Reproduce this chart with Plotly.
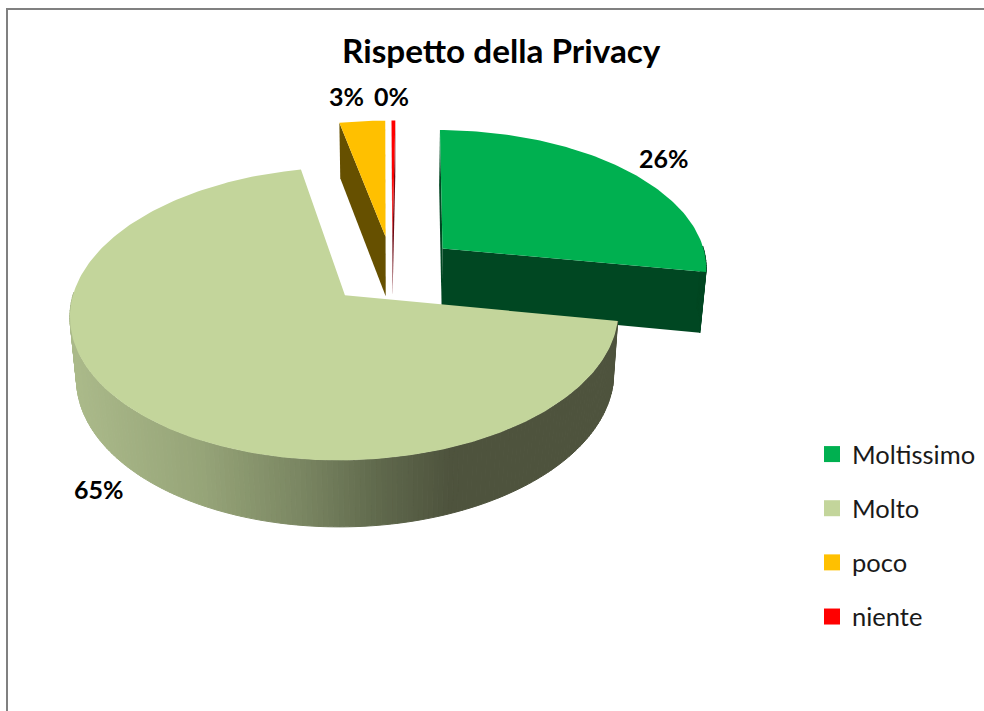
import math
import plotly.graph_objects as go

# Survey answers, in the order they run clockwise from the first slice angle
categories = ["Moltissimo", "Molto", "poco", "niente"]
shares = [26, 65, 3, 0.25]

top_colors = ["#00B050", "#C3D59B", "#FFC000", "#FF0000"]
wall_colors = ["#004722", None, "#665000", "#6E0A14"]

# Camera and disc geometry of the exploded 3D pie, in layout pixels
CX, CY = 392.3, 270
RX, RY = 266, 138
DEPTH = 62
PERSP_BACK = 0.123
PERSP_DOWN = 0.02
EXPLODE = 0.25
FIRST_ANGLE = 0.7
FONT = "Lato"

# Side wall shading of the large slice, by screen x
WALL_RAMP = [(70, (171, 186, 138)), (200, (150, 164, 120)), (300, (122, 134, 98)),
             (380, (95, 104, 76)), (450, (78, 83, 61)), (620, (78, 83, 61))]


def project(u, v, z):
    w = 1 + PERSP_BACK * v + PERSP_DOWN * z
    return CX + RX * u / w, CY + (-RY * v + DEPTH * z) / w


def ramp_color(x):
    for (x0, c0), (x1, c1) in zip(WALL_RAMP, WALL_RAMP[1:]):
        if x <= x1:
            t = max(0, (x - x0) / (x1 - x0))
            return "rgb(%d,%d,%d)" % tuple(round(a + (b - a) * t) for a, b in zip(c0, c1))
    return "rgb(%d,%d,%d)" % WALL_RAMP[-1][1]


def polygon(points, color, width=0.0):
    xs, ys = zip(*points)
    return go.Scatter(x=list(xs) + [xs[0]], y=list(ys) + [ys[0]], mode="lines", fill="toself",
                      fillcolor=color, line=dict(color=color, width=width),
                      hoverinfo="skip", showlegend=False)


def slice_traces(start, end, top, wall):
    """Traces for one slice; angles in degrees clockwise from the back of the disc."""
    mid = math.radians((start + end) / 2)
    ou, ov = EXPLODE * math.sin(mid), EXPLODE * math.cos(mid)
    steps = max(2, int(end - start))
    angles = [math.radians(start + (end - start) * i / steps) for i in range(steps + 1)]
    rim = [(ou + math.sin(a), ov + math.cos(a)) for a in angles]
    traces = []
    # Radial faces, then the rim, then the top face over them
    if wall:
        for u, v in (rim[-1], rim[0]):
            face = [project(ou, ov, 0), project(u, v, 0), project(u, v, 1), project(ou, ov, 1)]
            traces.append(polygon(face, wall))
    for (u0, v0), (u1, v1) in zip(rim, rim[1:]):
        if (v0 + v1) / 2 > ov + 0.02:
            continue
        quad = [project(u0, v0, 0), project(u1, v1, 0), project(u1, v1, 1), project(u0, v0, 1)]
        shade = wall or ramp_color((quad[0][0] + quad[1][0]) / 2)
        traces.append(polygon(quad, shade, width=1.0))
    traces.append(polygon([project(ou, ov, 0)] + [project(u, v, 0) for u, v in rim], top))
    return traces


total = sum(shares)
spans = []
angle = FIRST_ANGLE
for share in shares:
    spans.append((angle, angle + 360 * share / total))
    angle = spans[-1][1]

fig = go.Figure()

# Back slices first so the large slice sits over the green wall
for i in [3, 2, 0, 1]:
    for trace in slice_traces(spans[i][0], spans[i][1], top_colors[i], wall_colors[i]):
        fig.add_trace(trace)

for name, color in zip(categories, top_colors):
    fig.add_trace(go.Scatter(x=[None], y=[None], mode="markers", name=name, legendgroup=name,
                             marker=dict(symbol="square", size=16, color=color)))

label_anchors = [(664, 158), (99, 489), (346, 96), (391, 96)]
for share, (x, y) in zip(shares, label_anchors):
    fig.add_annotation(x=x, y=y, text=f"<b>{share:.0f}%</b>", showarrow=False,
                       font=dict(family=FONT, size=25, color="#000000"))

fig.add_annotation(x=501, y=50, text="<b>Rispetto della Privacy</b>", showarrow=False,
                   font=dict(family=FONT, size=33.3, color="#000000"))

# Chart frame, running off the right and bottom of the page
fig.add_shape(type="rect", x0=7, y0=9, x1=1000, y1=730, line=dict(color="#808080", width=2),
              fillcolor="rgba(0,0,0,0)")

fig.update_layout(
    width=984, height=711, margin=dict(l=0, r=0, t=0, b=0),
    paper_bgcolor="#FFFFFF", plot_bgcolor="#FFFFFF",
    xaxis=dict(range=[0, 984], visible=False, fixedrange=True),
    yaxis=dict(range=[711, 0], visible=False, fixedrange=True),
    legend=dict(x=812 / 984, y=1 - 431 / 711, xanchor="left", yanchor="top", tracegroupgap=18,
                font=dict(family=FONT, size=25.5, color="#1A1A1A"), bgcolor="rgba(0,0,0,0)"),
    showlegend=True,
)

fig.write_html("out.html", config=dict(displayModeBar=False))
